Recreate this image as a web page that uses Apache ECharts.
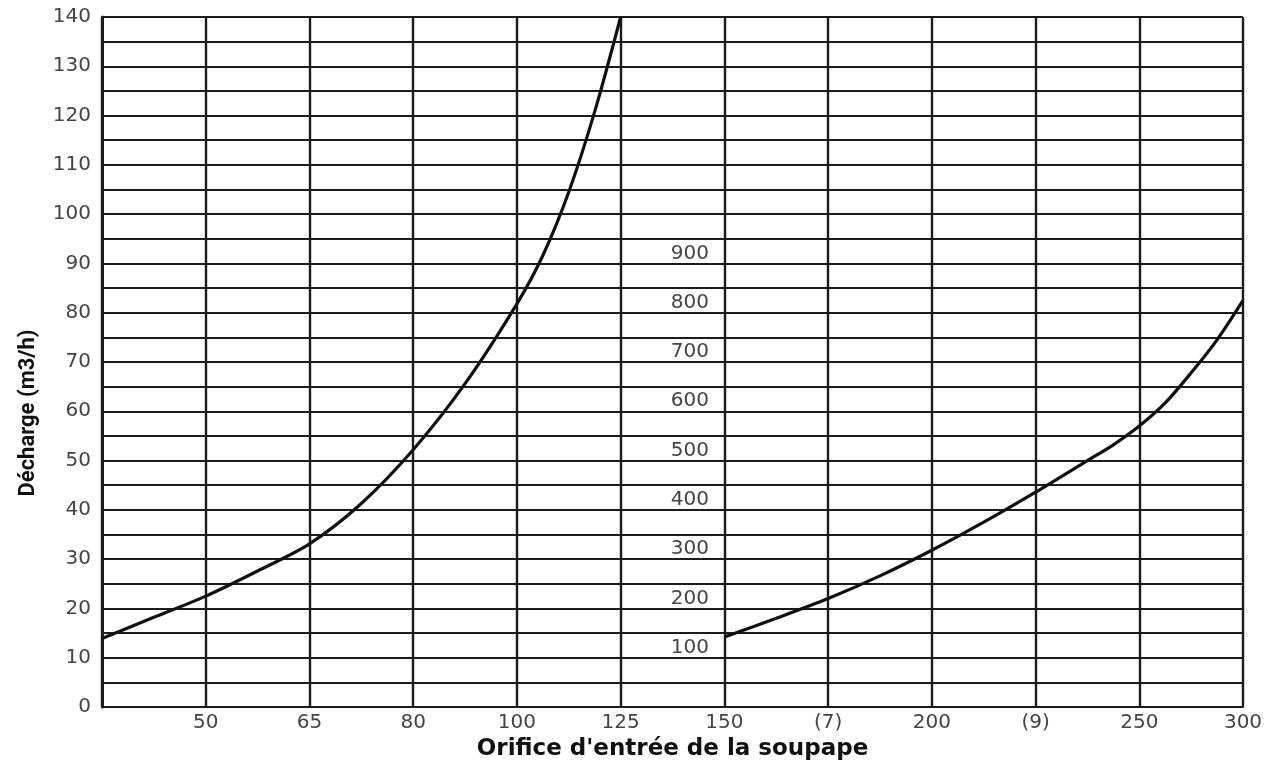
<!DOCTYPE html>
<html>
<head>
<meta charset="utf-8">
<script src="https://cdn.jsdelivr.net/npm/echarts@6/dist/echarts.min.js"></script>
<style>
html,body{margin:0;padding:0;background:#fff;}
#chart{width:1278px;height:760px;}
</style>
</head>
<body>
<div id="chart"></div>
<script>
// Category labels along the bottom (evenly spaced valve inlet sizes)
const xLabels = ['', '50', '65', '80', '100', '125', '150', '(7)', '200', '(9)', '250', '300'];

// Left curve (small valves), read on the left scale (m3/h)
const smallX = [0, 0.5, 1, 1.5, 2, 2.5, 3, 3.5, 4, 4.25, 4.5, 4.75, 5];
const smallY = [13.9, 18.2, 22.5, 27.6, 33.1, 41.3, 52.2, 65.6, 81.8, 91.6, 104.5, 120.8, 140];

// Right curve (large valves), read on the inner scale (100 ... 900)
const largeX = [6, 6.5, 7, 7.5, 8, 8.5, 9, 9.5, 9.75, 10, 10.25, 10.5, 10.75, 11];
const largeY = [142, 180, 220, 266, 318, 375, 436, 500, 532, 570, 617, 678, 745, 825];

// Inner scale labels shown
const innerLabels = [100, 200, 300, 400, 500, 600, 700, 800, 900];

const chart = echarts.init(document.getElementById('chart'));
const gridColor = '#1c1c1c';
const labelFont = 'DejaVu Sans';

chart.setOption({
  backgroundColor: '#ffffff',
  animation: false,
  grid: {left: 102, right: 35, top: 17, bottom: 53, outerBoundsMode: 'none', containLabel: false},
  xAxis: {
    type: 'value', min: 0, max: xLabels.length - 1, interval: 1,
    name: "Orifice d'entrée de la soupape",
    nameLocation: 'middle', nameGap: 27,
    nameTextStyle: {fontFamily: 'DejaVu Sans', fontWeight: 'bold', fontSize: 23, color: '#111'},
    axisLine: {show: true, lineStyle: {color: gridColor, width: 2}},
    axisTick: {show: false},
    axisLabel: {
      margin: 6, fontFamily: labelFont, fontSize: 20, color: '#444',
      formatter: v => xLabels[Math.round(v)] || ''
    },
    splitLine: {show: true, lineStyle: {color: gridColor, width: 2.4}}
  },
  yAxis: [{
    type: 'value', min: 0, max: 140, interval: 10,
    axisLine: {show: true, lineStyle: {color: gridColor, width: 3}},
    axisTick: {show: false},
    minorTick: {show: false, splitNumber: 2},
    axisLabel: {margin: 11, fontFamily: labelFont, fontSize: 20, color: '#444'},
    splitLine: {show: true, lineStyle: {color: gridColor, width: 2}},
    minorSplitLine: {show: true, lineStyle: {color: gridColor, width: 2}}
  }, {
    type: 'value', min: 0, max: 1400, interval: 100,
    position: 'left', offset: -618,
    axisLine: {show: false}, axisTick: {show: false},
    splitLine: {show: false},
    axisLabel: {
      margin: 11, fontFamily: labelFont, fontSize: 20, color: '#444',
      verticalAlign: 'bottom',
      formatter: v => innerLabels.indexOf(v) >= 0 ? String(v) : ''
    }
  }],
  graphic: [{
    type: 'text', x: 28, y: 413, rotation: Math.PI / 2,
    style: {
      text: 'Décharge (m3/h)', fontFamily: 'Roboto', fontWeight: 'bold',
      fontSize: 22, fill: '#111', align: 'center', verticalAlign: 'middle'
    }
  }],
  series: [{
    type: 'line', xAxisIndex: 0, yAxisIndex: 0,
    data: smallX.map((x, i) => [x, smallY[i]]),
    smooth: 0.3, symbol: 'none',
    lineStyle: {color: '#111', width: 3.2}
  }, {
    type: 'line', xAxisIndex: 0, yAxisIndex: 1,
    data: largeX.map((x, i) => [x, largeY[i]]),
    smooth: 0.3, symbol: 'none',
    lineStyle: {color: '#111', width: 3.2}
  }]
});
</script>
</body>
</html>
